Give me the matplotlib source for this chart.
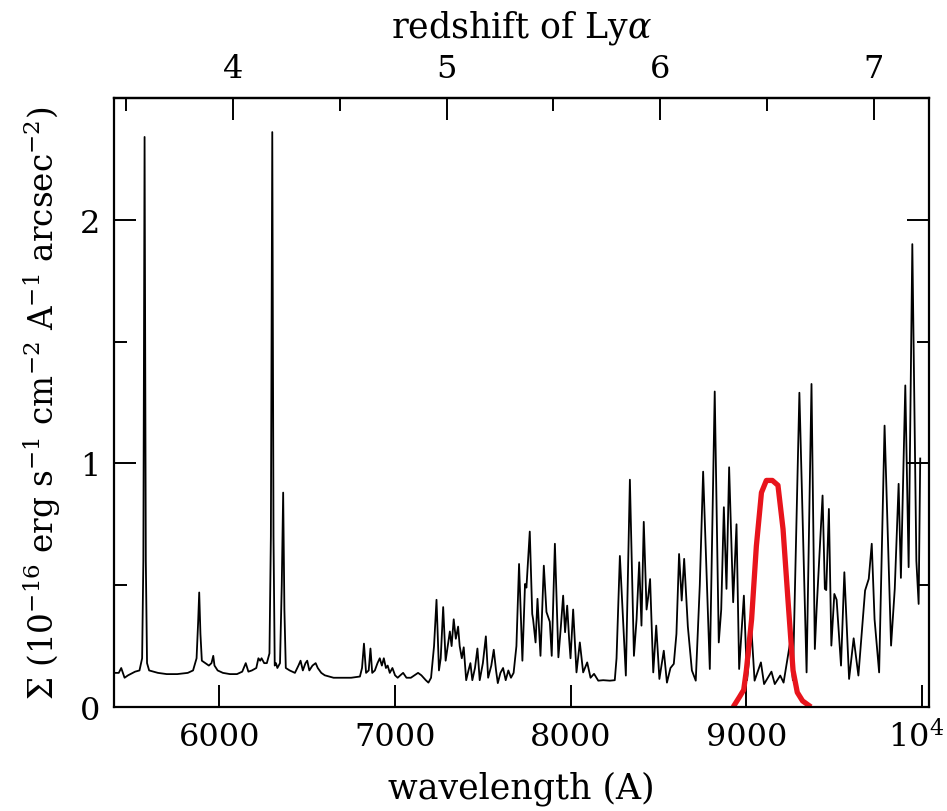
import matplotlib
matplotlib.use('Agg')
import matplotlib.pyplot as plt
import matplotlib.ticker as ticker
import matplotlib.transforms as mtransforms

plt.rcParams.update({
    "font.family": ["DejaVu Serif"],
    "mathtext.fontset": "dejavuserif",
    "font.size": 24,
    "axes.linewidth": 1.6,
})

LYA = 1215.67

# night-sky spectrum (wavelength in A, surface brightness)
wave = [5405, 5427, 5441, 5460, 5480, 5520, 5545, 5560, 5567, 5574, 5581, 5588, 5600,
        5650, 5700, 5760, 5820, 5850, 5870, 5879, 5885, 5892, 5900, 5920, 5940, 5955,
        5965, 5972, 5990, 6020, 6060, 6100, 6130, 6150, 6165, 6185, 6210, 6222, 6232,
        6240, 6255, 6270, 6285, 6293, 6301, 6308, 6315, 6322, 6330, 6345, 6355, 6363,
        6370, 6378, 6400, 6430, 6450, 6462, 6475, 6490, 6500, 6512, 6530, 6548, 6560,
        6580, 6600, 6650, 6700, 6750, 6800, 6812, 6823, 6835, 6850, 6860, 6870, 6885,
        6900, 6913, 6925, 6936, 6948, 6958, 6970, 6985, 7000, 7015, 7030, 7046, 7065,
        7090, 7110, 7131, 7150, 7175, 7190, 7205, 7222, 7236, 7250, 7260, 7274, 7288,
        7300, 7312, 7322, 7334, 7346, 7359, 7368, 7380, 7391, 7405, 7418, 7429, 7440,
        7455, 7469, 7482, 7500, 7517, 7530, 7548, 7562, 7575, 7585, 7600, 7615, 7630,
        7645, 7660, 7675, 7691, 7706, 7725, 7740, 7748, 7767, 7781, 7786, 7800, 7811,
        7828, 7847, 7862, 7881, 7892, 7910, 7930, 7944, 7957, 7968, 7980, 7991, 7999,
        8014, 8033, 8052, 8071, 8094, 8113, 8133, 8157, 8185, 8223, 8251, 8261, 8280,
        8314, 8337, 8360, 8375, 8390, 8403, 8416, 8432, 8441, 8452, 8470, 8487, 8505,
        8530, 8548, 8568, 8587, 8602, 8617, 8632, 8646, 8667, 8690, 8712, 8735, 8754,
        8792, 8820, 8843, 8857, 8872, 8887, 8902, 8925, 8944, 8959, 8986, 9004, 9030,
        9047, 9083, 9101, 9143, 9162, 9193, 9212, 9248, 9265, 9302, 9343, 9371, 9390,
        9400, 9434, 9447, 9455, 9470, 9484, 9501, 9514, 9539, 9558, 9585, 9611, 9638,
        9676, 9697, 9714, 9730, 9756, 9787, 9824, 9845, 9867, 9880, 9905, 9924, 9945,
        9968, 9981, 9990]
flux = [0.14, 0.14, 0.16, 0.12, 0.13, 0.145, 0.15, 0.20, 0.60, 2.34, 0.60, 0.18, 0.15,
        0.14, 0.135, 0.135, 0.14, 0.15, 0.20, 0.35, 0.47, 0.30, 0.19, 0.18, 0.17, 0.18,
        0.21, 0.17, 0.15, 0.14, 0.135, 0.135, 0.145, 0.18, 0.145, 0.15, 0.16, 0.20, 0.19,
        0.20, 0.18, 0.18, 0.22, 0.70, 2.36, 0.70, 0.17, 0.18, 0.16, 0.18, 0.50, 0.88,
        0.40, 0.16, 0.15, 0.14, 0.17, 0.19, 0.15, 0.18, 0.19, 0.15, 0.17, 0.18, 0.16,
        0.14, 0.13, 0.12, 0.12, 0.12, 0.125, 0.16, 0.26, 0.14, 0.15, 0.24, 0.14, 0.15,
        0.18, 0.20, 0.17, 0.20, 0.16, 0.17, 0.14, 0.16, 0.13, 0.12, 0.13, 0.14, 0.12,
        0.12, 0.13, 0.14, 0.13, 0.11, 0.10, 0.12, 0.25, 0.44, 0.15, 0.20, 0.41, 0.19,
        0.25, 0.31, 0.25, 0.36, 0.28, 0.33, 0.25, 0.20, 0.245, 0.11, 0.15, 0.18, 0.11,
        0.16, 0.24, 0.11, 0.18, 0.29, 0.12, 0.17, 0.235, 0.15, 0.098, 0.14, 0.16, 0.11,
        0.15, 0.12, 0.14, 0.25, 0.587, 0.19, 0.505, 0.49, 0.72, 0.382, 0.36, 0.265, 0.444,
        0.21, 0.58, 0.39, 0.35, 0.21, 0.67, 0.204, 0.33, 0.457, 0.307, 0.416, 0.28, 0.20,
        0.40, 0.142, 0.265, 0.142, 0.183, 0.12, 0.136, 0.108, 0.11, 0.108, 0.11, 0.20, 0.62,
        0.129, 0.933, 0.21, 0.36, 0.594, 0.334, 0.76, 0.40, 0.45, 0.525, 0.142, 0.334, 0.115,
        0.231, 0.10, 0.16, 0.177, 0.30, 0.628, 0.437, 0.608, 0.33, 0.15, 0.108, 0.50, 0.966,
        0.156, 1.295, 0.265, 0.40, 0.82, 0.485, 0.984, 0.43, 0.75, 0.156, 0.457, 0.11, 0.307,
        0.108, 0.183, 0.094, 0.145, 0.094, 0.129, 0.10, 0.259, 0.11, 1.29, 0.142, 1.326, 0.238,
        0.40, 0.868, 0.485, 0.48, 0.813, 0.252, 0.464, 0.44, 0.17, 0.553, 0.115, 0.282, 0.129,
        0.478, 0.526, 0.67, 0.36, 0.142, 1.155, 0.252, 0.485, 0.916, 0.53, 1.32, 0.574, 1.90,
        0.60, 0.423, 1.02]

# filter transmission curve (scaled), red
filt_wave = [8925, 8960, 8985, 9000, 9030, 9057, 9086, 9114, 9148, 9180, 9209, 9237,
             9266, 9290, 9320, 9368]
filt_flux = [0.0, 0.04, 0.07, 0.15, 0.36, 0.66, 0.88, 0.93, 0.93, 0.91, 0.73, 0.44,
             0.15, 0.06, 0.025, 0.0]

fig = plt.figure(figsize=(9.47, 8.12), dpi=100)
ax = fig.add_axes([0.1204, 0.1281, 0.8606, 0.75])

ax.plot(wave, flux, color='black', lw=1.3)
ax.plot(filt_wave, filt_flux, color='#e8141c', lw=3.8, solid_capstyle='butt')

ax.set_xlim(5400, 10040)
ax.set_ylim(0, 2.5)

ax.set_xticks([6000, 7000, 8000, 9000, 10000])
ax.set_xticklabels(['6000', '7000', '8000', '9000', r'10$^4$'])
ax.set_yticks([0, 1, 2])
ax.yaxis.set_minor_locator(ticker.MultipleLocator(0.5))
ax.tick_params(axis='both', which='both', direction='in', width=1.4, labelsize=23)
ax.tick_params(axis='both', which='major', length=16, pad=10)
ax.tick_params(axis='y', which='minor', length=9)
ax.tick_params(axis='y', which='both', right=True)
ax.tick_params(axis='x', which='both', top=False)

# keep the 10^4 label inside the canvas
last = ax.get_xticklabels()[-1]
last.set_transform(last.get_transform() +
                   mtransforms.ScaledTranslation(-6 / 100, 0, fig.dpi_scale_trans))

ax.set_xlabel('wavelength (A)', fontsize=25, labelpad=12)
ax.set_ylabel(r'$\Sigma$ (10$^{-16}$ erg s$^{-1}$ cm$^{-2}$ A$^{-1}$ arcsec$^{-2}$)',
              fontsize=23.5, labelpad=12)

top = ax.secondary_xaxis('top', functions=(lambda l: l / LYA - 1, lambda z: (z + 1) * LYA))
top.set_xticks([4, 5, 6, 7])
top.xaxis.set_minor_locator(ticker.FixedLocator([3.5, 4.5, 5.5, 6.5, 7.5]))
top.tick_params(which='both', direction='in', width=1.4, pad=10, labelsize=23)
top.tick_params(which='major', length=16)
top.tick_params(which='minor', length=9)
top.set_xlabel(r'redshift of Ly$\alpha$', fontsize=25, labelpad=12)

fig.savefig('out.png', dpi=100)
